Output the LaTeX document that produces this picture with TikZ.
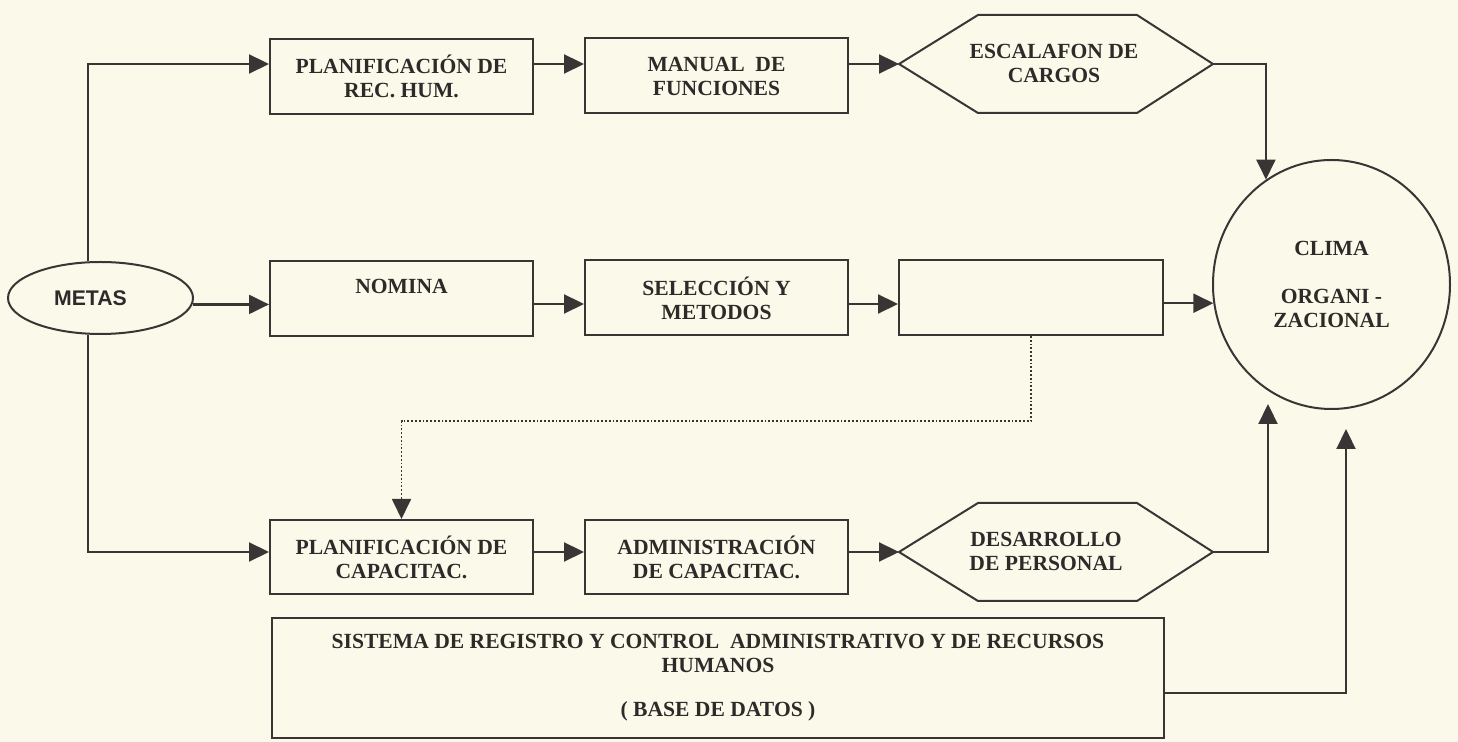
\documentclass[tikz,border=0pt]{standalone}
\usepackage{fontspec}
\setmainfont{Liberation Serif}
\newfontfamily\metasfamily{Liberation Sans}
\usetikzlibrary{arrows.meta,shapes.geometric,calc}
\definecolor{paper}{HTML}{FBFAEA}
\definecolor{ink}{HTML}{3A3535}
\definecolor{textink}{HTML}{2E2A2A}
\newcommand\boxfnt{\bfseries\fontsize{10.8}{12}\selectfont}
\newcommand\metasfnt{\metasfamily\bfseries\fontsize{10.6}{12}\selectfont}
\begin{document}
\begin{tikzpicture}[x=0.5pt,y=-0.5pt,
  box/.style={draw=ink, line width=1pt, rectangle, inner sep=0pt, align=center,
    font=\boxfnt, text=textink, minimum width=131.5pt, minimum height=37.5pt},
  txt/.style={inner sep=0pt, align=center, font=\boxfnt, text=textink},
  shapeline/.style={draw=ink, line width=1pt, line join=miter},
  conn/.style={draw=ink, line width=1.1pt, -{Triangle[length=10pt,width=9.5pt]}},
  dotconn/.style={draw=ink, line width=0.9pt, densely dotted,
    -{Triangle[length=10pt,width=9.5pt]}},
]
\fill[paper] (0,0) rectangle (1458,742);
\useasboundingbox (0,0) rectangle (1458,742);

% ---- nodes ----
\node[draw=ink, line width=1pt, ellipse, inner sep=0pt, minimum width=92.5pt,
  minimum height=36pt, font=\metasfnt, text=textink] (metas) at (100.5,298) {METAS\kern10pt};

\node[box] (planrec) at (401.5,76.5) {PLANIFICACIÓN DE\\REC. HUM.};
\node[box] (manual) at (716.5,76) {MANUAL\ \ DE\\FUNCIONES};

\coordinate (escL) at (899,64);
\coordinate (escR) at (1213,64);
\draw[shapeline] (escL) -- (978,15) -- (1137,15) -- (escR) -- (1137,113) -- (978,113) -- cycle;
\node[txt] (escalafon) at (1054,63) {ESCALAFON DE\\CARGOS};

\node[draw=ink, line width=1pt, ellipse, inner sep=0pt, minimum width=118.5pt,
  minimum height=124.5pt, align=center, font=\boxfnt, text=textink] (clima)
  at (1331.5,284.5) {CLIMA\\[12pt]ORGANI -\\ZACIONAL};

\node[box] (nomina) at (401.5,298.5) {NOMINA\\\mbox{}};
\node[box] (seleccion) at (716.5,298) {SELECCIÓN Y\\METODOS};
\node[box, minimum width=132pt] (vacio) at (1031,297.5) {};

\node[box, minimum height=37pt] (plancap) at (401.5,557) {PLANIFICACIÓN DE\\CAPACITAC.};
\node[box, minimum height=37pt] (admin) at (716.5,557) {ADMINISTRACIÓN\\DE CAPACITAC.};

\coordinate (desL) at (899,552);
\coordinate (desR) at (1213,552);
\draw[shapeline] (desL) -- (978,503) -- (1137,503) -- (desR) -- (1137,601) -- (978,601) -- cycle;
\node[txt] (desarrollo) at (1046,551) {DESARROLLO\\DE PERSONAL};

\node[box, minimum width=446pt, minimum height=60pt] (sistema) at (718,678)
  {SISTEMA DE REGISTRO Y CONTROL\ \ ADMINISTRATIVO Y DE RECURSOS\\HUMANOS\\[10pt]( BASE DE DATOS )};

% ---- connectors ----
\coordinate (v1) at (88,64);
\coordinate (r2) at (190,304);
\coordinate (r3) at (88,552);
\coordinate (d1) at (1031,421);
\coordinate (u1) at (1268,404);
\coordinate (s1) at (1346,693);
\coordinate (u2) at (1346,429);

\draw[conn] (v1 |- metas.north) -- (v1) -- (planrec.west |- v1);
\draw[conn] (planrec.east |- v1) -- (manual.west |- v1);
\draw[conn] (manual.east |- v1) -- (escL);
\draw[conn] (escR) -| (clima.122.85);

\draw[conn] (metas.-4.4) -- (nomina.west |- metas.-4.4);
\draw[conn] (nomina.east |- r2) -- (seleccion.west |- r2);
\draw[conn] (seleccion.east |- r2) -- (vacio.west |- r2);
\draw[conn] (vacio.east |- clima.189.5) -- (clima.189.5);

\draw[dotconn] (vacio.south) -- (d1) -| (plancap.north);

\draw[conn] (v1 |- metas.south) -- (r3) -- (plancap.west |- r3);
\draw[conn] (plancap.east |- r3) -- (admin.west |- r3);
\draw[conn] (admin.east |- r3) -- (desL);
\draw[conn] (desR) -| (u1);
\draw[conn] (sistema.east |- s1) -- (s1) -- (u2);
\end{tikzpicture}
\end{document}
